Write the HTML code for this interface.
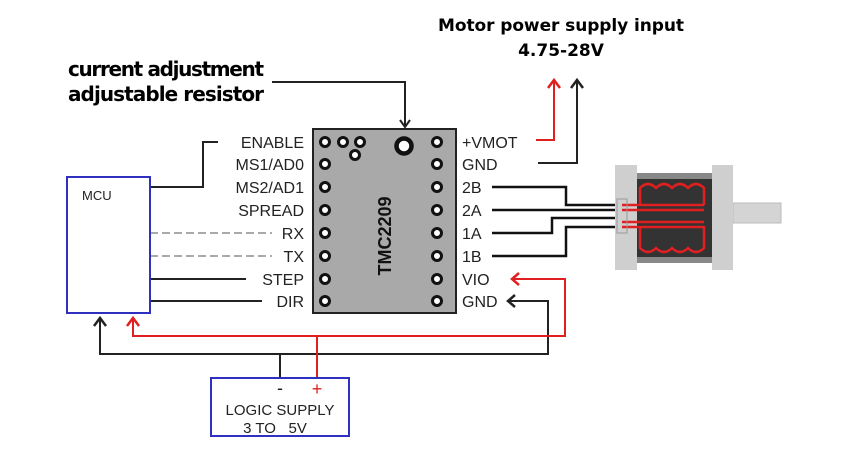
<!DOCTYPE html>
<html><head><style>
body{margin:0;background:#fff;}
svg{display:block;font-family:"Liberation Sans",sans-serif;}
</style></head><body>
<svg width="865" height="459" viewBox="0 0 865 459" xmlns="http://www.w3.org/2000/svg">
<text x="166" y="76" font-size="20" font-weight="bold" text-anchor="middle" font-family="DejaVu Sans,sans-serif" textLength="196">current adjustment</text>
<text x="166" y="101" font-size="20" font-weight="bold" text-anchor="middle" font-family="DejaVu Sans,sans-serif" textLength="196">adjustable resistor</text>
<text x="561" y="31" font-size="17" font-weight="bold" text-anchor="middle" font-family="DejaVu Sans,sans-serif" textLength="246">Motor power supply input</text>
<text x="561" y="56" font-size="17" font-weight="bold" text-anchor="middle" font-family="DejaVu Sans,sans-serif">4.75-28V</text>
<g fill="none" stroke-width="2" stroke-linejoin="miter">
<polyline points="272,82 405,82 405,127" stroke="#222"/>
<polyline points="400,120 405,127 410,120" stroke="#222"/>
<polyline points="536,140 554,140 554,80" stroke="#e02020"/>
<polyline points="548,88 554,80 560,88" stroke="#e02020" stroke-width="2.5"/>
<polyline points="538,163 577,163 577,80" stroke="#222"/>
<polyline points="571,88 577,80 583,88" stroke="#222" stroke-width="2.5"/>
<polyline points="218,142 203,142 203,187 150,187" stroke="#222"/>
<line x1="150" y1="233" x2="272" y2="233" stroke="#aaa" stroke-dasharray="8,4"/>
<line x1="150" y1="256" x2="272" y2="256" stroke="#aaa" stroke-dasharray="8,4"/>
<line x1="150" y1="279" x2="246" y2="279" stroke="#222"/>
<line x1="150" y1="301" x2="262" y2="301" stroke="#222"/>
<polyline points="100,318 100,354 548,354 548,301 508,301" stroke="#222"/>
<polyline points="94,326 100,318 106,326" stroke="#222" stroke-width="2.5"/>
<polyline points="515,295 508,301 515,307" stroke="#222" stroke-width="2.5"/>
<line x1="280" y1="354" x2="280" y2="378" stroke="#222"/>
<polyline points="133,318 133,336 565,336 565,279 512,279" stroke="#e02020"/>
<polyline points="127,326 133,318 139,326" stroke="#e02020" stroke-width="2.5"/>
<polyline points="519,273 512,279 519,285" stroke="#e02020" stroke-width="2.5"/>
<line x1="317" y1="336" x2="317" y2="378" stroke="#e02020"/>
<polyline points="492,187 566,187 566,205 622,205" stroke="#111" stroke-width="2.5"/>
<polyline points="492,210 622,210" stroke="#111" stroke-width="2.5"/>
<polyline points="492,233 552,233 552,218 622,218" stroke="#111" stroke-width="2.5"/>
<polyline points="492,256 566,256 566,227 622,227" stroke="#111" stroke-width="2.5"/>
</g>
<rect x="67" y="177" width="83" height="136" fill="#fff" stroke="#3030c0" stroke-width="2"/>
<text x="82" y="200" font-size="13" fill="#222">MCU</text>
<rect x="211" y="378" width="138" height="58" fill="#fff" stroke="#3030c0" stroke-width="2"/>
<text x="280" y="394" font-size="18" fill="#222" text-anchor="middle">-</text>
<text x="317" y="395" font-size="18" fill="#e02020" text-anchor="middle">+</text>
<text x="280" y="415" font-size="15" fill="#222" text-anchor="middle">LOGIC SUPPLY</text>
<text x="275" y="433" font-size="15" fill="#222" text-anchor="middle">3 TO &#160; 5V</text>
<rect x="313" y="129" width="143" height="184" fill="#a9a9a9" stroke="#222" stroke-width="2"/>
<g fill="#fff" stroke="#111" stroke-width="3">
<circle cx="325" cy="142" r="4.5"/><circle cx="343" cy="142" r="4.5"/><circle cx="360" cy="142" r="4.5"/><circle cx="355" cy="155" r="4.5"/>
<circle cx="325" cy="164" r="4.5"/><circle cx="325" cy="187" r="4.5"/><circle cx="325" cy="210" r="4.5"/><circle cx="325" cy="233" r="4.5"/><circle cx="325" cy="256" r="4.5"/><circle cx="325" cy="279" r="4.5"/><circle cx="325" cy="301" r="4.5"/>
<circle cx="437" cy="142" r="4.5"/><circle cx="437" cy="164" r="4.5"/><circle cx="437" cy="187" r="4.5"/><circle cx="437" cy="210" r="4.5"/><circle cx="437" cy="233" r="4.5"/><circle cx="437" cy="256" r="4.5"/><circle cx="437" cy="279" r="4.5"/><circle cx="437" cy="301" r="4.5"/>
<circle cx="404" cy="146" r="7.5" stroke-width="4.5"/>
</g>
<text transform="translate(391,236) rotate(-90)" font-size="18" font-weight="bold" fill="#111" text-anchor="middle">TMC2209</text>
<g font-size="16" fill="#222" text-anchor="end">
<text x="304" y="148">ENABLE</text><text x="304" y="170">MS1/AD0</text><text x="304" y="193">MS2/AD1</text><text x="304" y="216">SPREAD</text><text x="304" y="239">RX</text><text x="304" y="262">TX</text><text x="304" y="285">STEP</text><text x="304" y="307">DIR</text>
</g>
<g font-size="16" fill="#222">
<text x="462" y="148">+VMOT</text><text x="462" y="170">GND</text><text x="462" y="193">2B</text><text x="462" y="216">2A</text><text x="462" y="239">1A</text><text x="462" y="262">1B</text><text x="462" y="285">VIO</text><text x="462" y="307">GND</text>
</g>
<rect x="733" y="203" width="48" height="20" fill="#d4d4d4" stroke="#bbb"/>
<rect x="615" y="165" width="22" height="105" fill="#cfcfcf"/>
<rect x="712" y="165" width="21" height="105" fill="#cfcfcf"/>
<rect x="637" y="173" width="75" height="90" fill="#333"/>
<rect x="637" y="173" width="75" height="6" fill="#888"/>
<rect x="637" y="257" width="75" height="6" fill="#888"/>
<g fill="none" stroke="#e02020" stroke-width="2.5">
<path d="M640,205 L640,188 Q648,180 656,188 Q664,180 672,188 Q680,180 688,188 Q696,180 704,188 L704,205"/>
<path d="M640,226 L640,248 Q648,256 656,248 Q664,256 672,248 Q680,256 688,248 Q696,256 704,248 L704,226"/>
<line x1="622" y1="205" x2="704" y2="205"/><line x1="622" y1="210" x2="704" y2="210"/>
<line x1="622" y1="222" x2="704" y2="222"/><line x1="622" y1="227" x2="704" y2="227"/>
</g>
<rect x="617" y="199" width="10" height="34" fill="none" stroke="#999" stroke-width="1"/>
</svg>
</body></html>
